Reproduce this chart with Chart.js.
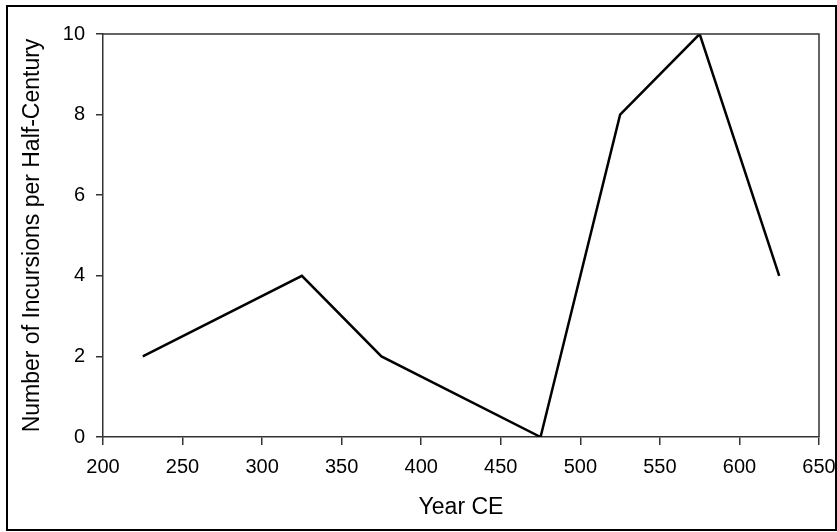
<!DOCTYPE html>
<html>
<head>
<meta charset="utf-8">
<script src="https://cdn.jsdelivr.net/npm/chart.js@4/dist/chart.umd.min.js"></script>
<style>
  html, body { margin: 0; padding: 0; background: #fff; }
  #wrap { position: relative; width: 837px; height: 532px; }
  #frame { position: absolute; left: 6px; top: 5px; width: 827px; height: 522px; border: 2px solid #000; pointer-events: none; }
  canvas { position: absolute; left: 0; top: 0; }
</style>
</head>
<body>
<div id="wrap">
  <canvas id="chart" width="837" height="532"></canvas>
  <div id="frame"></div>
</div>
<script>
// Incursions per half-century (midpoint year)
const years      = [225, 325, 375, 475, 525, 575, 625];
const incursions = [2, 4, 2, 0, 8, 10, 4];
const xTicks     = [200, 250, 300, 350, 400, 450, 500, 550, 600, 650];
const yTicks     = [0, 2, 4, 6, 8, 10];

const FONT = "'Liberation Sans', Arial, sans-serif";
const AXIS = '#333';

// top and right edges of the plot box
const boxFrame = {
    id: 'boxFrame',
    afterDraw(chart) {
        const { ctx, chartArea: a } = chart;
        ctx.save();
        ctx.strokeStyle = AXIS;
        ctx.lineWidth = 1.5;
        ctx.beginPath();
        ctx.moveTo(a.left, a.top);
        ctx.lineTo(a.right, a.top);
        ctx.lineTo(a.right, a.bottom);
        ctx.stroke();
        ctx.restore();
    }
};

const ctx = document.getElementById('chart').getContext('2d');
new Chart(ctx, {
    type: 'line',
    data: {
        datasets: [{
            data: years.map((y, i) => ({ x: y, y: incursions[i] })),
            borderColor: '#000',
            borderWidth: 2.5,
            pointRadius: 0,
            tension: 0,
            fill: false
        }]
    },
    options: {
        responsive: false,
        animation: false,
        layout: { padding: { left: 0, top: 34, right: 18, bottom: 0 } },
        plugins: { legend: { display: false }, tooltip: { enabled: false } },
        scales: {
            x: {
                type: 'linear',
                min: 200, max: 650,
                afterBuildTicks: s => { s.ticks = xTicks.map(v => ({ value: v })); },
                afterFit: s => { s.height = 95; s.paddingLeft = 0; s.paddingRight = 0; },
                grid: { drawOnChartArea: false, drawTicks: true, tickLength: 8, color: AXIS, lineWidth: 1.5 },
                border: { display: true, color: AXIS, width: 1.5 },
                ticks: { color: '#000', font: { family: FONT, size: 20 }, padding: 10, maxRotation: 0 },
                title: { display: true, text: 'Year CE', color: '#000', font: { family: FONT, size: 23 }, padding: { top: 10, bottom: 11 } }
            },
            y: {
                min: 0, max: 10,
                afterBuildTicks: s => { s.ticks = yTicks.map(v => ({ value: v })); },
                afterFit: s => { s.width = 103; s.paddingTop = 0; s.paddingBottom = 0; },
                grid: { drawOnChartArea: false, drawTicks: true, tickLength: 7, color: AXIS, lineWidth: 1.5 },
                border: { display: true, color: AXIS, width: 1.5 },
                ticks: { color: '#000', font: { family: FONT, size: 20 }, padding: 11 },
                title: { display: true, text: 'Number of Incursions per Half-Century', color: '#000', font: { family: FONT, size: 23 }, padding: { top: 19 } }
            }
        }
    },
    plugins: [boxFrame]
});
</script>
</body>
</html>
